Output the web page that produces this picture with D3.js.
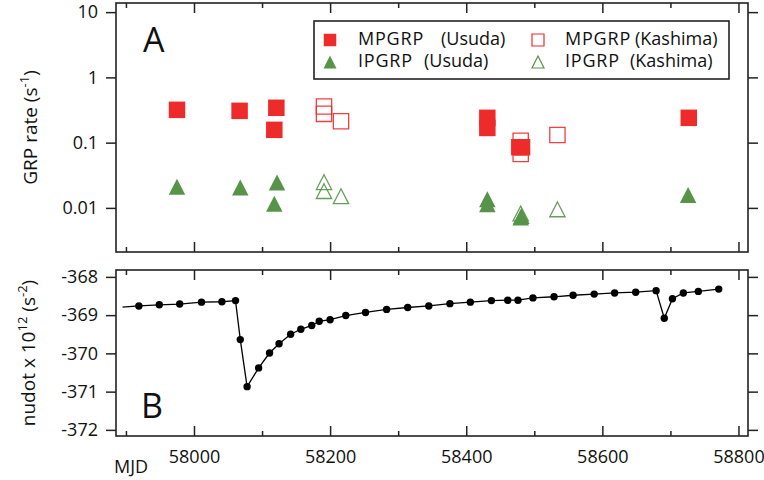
<!DOCTYPE html>
<html>
<head>
<meta charset="utf-8">
<script src="https://cdn.jsdelivr.net/npm/d3@7"></script>
<style>
  html, body { margin: 0; padding: 0; background: #fff; }
  svg { display: block; font-family: "Open Sans", sans-serif; }
  text { fill: #111; }
</style>
</head>
<body>
<svg id="chart" width="764" height="480"></svg>
<script>
// ---- Data ----
// Panel A: giant radio pulse rates (s^-1)
const mpUsudaMjd   = [57975, 58067, 58121, 58118, 58431, 58431, 58478, 58482, 58727];
const mpUsudaRate  = [0.318, 0.307, 0.342, 0.157, 0.24, 0.168, 0.085, 0.085, 0.24];
const ipUsudaMjd   = [57975, 58068, 58122, 58118, 58431, 58431, 58480, 58481, 58726];
const ipUsudaRate  = [0.0211, 0.0205, 0.0245, 0.0116, 0.0136, 0.0114, 0.0071, 0.0075, 0.0158];
const mpKashimaMjd  = [58191, 58191, 58216, 58480, 58480, 58534];
const mpKashimaRate = [0.358, 0.276, 0.213, 0.107, 0.067, 0.131];
const ipKashimaMjd  = [58191, 58191, 58216, 58480, 58534];
const ipKashimaRate = [0.0248, 0.0181, 0.0151, 0.0082, 0.0095];

// Panel B: spin-down rate nudot x 10^12 (s^-2)
const nudotLineStart = [57895, -368.79];
const nudotMjd = [57919, 57949, 57979, 58011, 58041, 58061, 58068, 58078, 58095, 58111,
                  58125, 58142, 58157, 58173, 58184, 58200, 58223, 58252, 58283, 58314,
                  58345, 58376, 58406, 58437, 58461, 58476, 58498, 58529, 58557, 58588,
                  58618, 58649, 58679, 58691, 58703, 58719, 58741, 58771];
const nudotVal = [-368.76, -368.73, -368.71, -368.66, -368.65, -368.62, -369.64, -370.87, -370.38, -369.99,
                  -369.75, -369.50, -369.37, -369.27, -369.16, -369.12, -369.01, -368.93, -368.85, -368.80,
                  -368.76, -368.70, -368.66, -368.62, -368.61, -368.61, -368.55, -368.52, -368.48, -368.45,
                  -368.42, -368.40, -368.36, -369.08, -368.57, -368.42, -368.38, -368.32];

// Tick values
const xMajorTicks = [58000, 58200, 58400, 58600, 58800];
const xMinorTicks = [57900, 58100, 58300, 58500, 58700];
const rateTicks   = [0.01, 0.1, 1, 10];
const rateTickLabels = ["0.01", "0.1", "1", "10"];
const nudotTicks  = [-372, -371, -370, -369, -368];

// Legend entries: pulse type and station
const legendTypes = ["MPGRP", "MPGRP", "IPGRP", "IPGRP"];
const legendSites = ["(Usuda)", "(Kashima)", "(Usuda)", "(Kashima)"];

// ---- Layout ----
const red = "#ee2b2b";
const green = "#57944a";
const axisColor = "#222";
const FONT = 18;
const L = 116, R = 748;
const A = { top: 3, bottom: 252 };
const B = { top: 270, bottom: 436 };

const svg = d3.select("#chart");

const x = d3.scaleLinear().domain([57885.4, 58814]).range([L, R]);
const yRate = d3.scaleLog().domain([0.00211, 13.8]).range([A.bottom, A.top]);
const yNudot = d3.scaleLinear().domain([-372.16, -367.82]).range([B.bottom, B.top]);

// Square and triangle markers centred on (cx, cy)
function squarePath(cx, cy, s) {
  const h = s / 2;
  return `M${cx - h},${cy - h}H${cx + h}V${cy + h}H${cx - h}Z`;
}
function trianglePath(cx, cy, w, hgt) {
  return `M${cx},${cy - hgt / 2}L${cx + w / 2},${cy + hgt / 2}L${cx - w / 2},${cy + hgt / 2}Z`;
}

function styleAxis(g) {
  g.select(".domain").remove();
  g.selectAll("line").attr("stroke", axisColor).attr("stroke-width", 1.5);
  g.selectAll("text").attr("font-family", "Open Sans, sans-serif").attr("font-size", FONT).attr("fill", "#111");
}

function drawFrame(panel, yScale, yTicks, yFormat, showXLabels) {
  // horizontal ticks (inward) on top and bottom edges
  const bottomMajor = d3.axisBottom(x).tickValues(xMajorTicks).tickSize(-10)
    .tickFormat(showXLabels ? (d => String(d)) : () => "").tickPadding(14);
  const bottomMinor = d3.axisBottom(x).tickValues(xMinorTicks).tickSize(-5).tickFormat(() => "");
  const topMajor = d3.axisTop(x).tickValues(xMajorTicks).tickSize(-10).tickFormat(() => "");
  const topMinor = d3.axisTop(x).tickValues(xMinorTicks).tickSize(-5).tickFormat(() => "");

  svg.append("g").attr("transform", `translate(0,${panel.bottom})`).call(bottomMajor).call(styleAxis);
  svg.append("g").attr("transform", `translate(0,${panel.bottom})`).call(bottomMinor).call(styleAxis);
  svg.append("g").attr("transform", `translate(0,${panel.top})`).call(topMajor).call(styleAxis);
  svg.append("g").attr("transform", `translate(0,${panel.top})`).call(topMinor).call(styleAxis);

  // vertical ticks: outward on both sides, labels on the left only
  const left = d3.axisLeft(yScale).tickValues(yTicks).tickSize(10).tickPadding(8).tickFormat(yFormat);
  const right = d3.axisRight(yScale).tickValues(yTicks).tickSize(10).tickFormat(() => "");
  svg.append("g").attr("transform", `translate(${L},0)`).call(left).call(styleAxis);
  svg.append("g").attr("transform", `translate(${R},0)`).call(right).call(styleAxis);

  svg.append("rect")
    .attr("x", L).attr("y", panel.top)
    .attr("width", R - L).attr("height", panel.bottom - panel.top)
    .attr("fill", "none").attr("stroke", axisColor).attr("stroke-width", 1.6);
}

// ---- Panel A ----
drawFrame(A, yRate, rateTicks, (d, i) => rateTickLabels[i], false);

const gA = svg.append("g");
const SQ = 16.5, TW = 16.5, TH = 16;

// open Kashima markers
gA.selectAll(".mpk").data(d3.zip(mpKashimaMjd, mpKashimaRate)).join("path")
  .attr("d", d => squarePath(x(d[0]), yRate(d[1]), SQ - 1.2))
  .attr("fill", "none").attr("stroke", red).attr("stroke-width", 1.3).attr("stroke-opacity", 0.9);
gA.selectAll(".ipk").data(d3.zip(ipKashimaMjd, ipKashimaRate)).join("path")
  .attr("d", d => trianglePath(x(d[0]), yRate(d[1]), TW - 1.2, TH - 1.2))
  .attr("fill", "none").attr("stroke", green).attr("stroke-width", 1.3).attr("stroke-opacity", 0.9);

// filled Usuda markers
gA.selectAll(".mpu").data(d3.zip(mpUsudaMjd, mpUsudaRate)).join("path")
  .attr("d", d => squarePath(x(d[0]), yRate(d[1]), SQ))
  .attr("fill", red);
gA.selectAll(".ipu").data(d3.zip(ipUsudaMjd, ipUsudaRate)).join("path")
  .attr("d", d => trianglePath(x(d[0]), yRate(d[1]), TW, TH))
  .attr("fill", green);

// panel letter
svg.append("text").attr("x", 143).attr("y", 52).attr("font-size", 34).text("A");

// legend
const lg = svg.append("g");
lg.append("rect").attr("x", 314).attr("y", 21).attr("width", 415).attr("height", 58)
  .attr("fill", "#fff").attr("stroke", axisColor).attr("stroke-width", 1.6);
const colMarkX = [330, 538], colTextX = [358, 565], rowY = [40, 62];
const siteStartX = [441, 635, 424, 630];
const legendMarks = [
  (cx, cy) => lg.append("path").attr("d", squarePath(cx, cy, 12.5)).attr("fill", red),
  (cx, cy) => lg.append("path").attr("d", squarePath(cx, cy, 12)).attr("fill", "none").attr("stroke", red).attr("stroke-width", 1.2),
  (cx, cy) => lg.append("path").attr("d", trianglePath(cx, cy, 13, 13)).attr("fill", green),
  (cx, cy) => lg.append("path").attr("d", trianglePath(cx, cy, 12, 12)).attr("fill", "none").attr("stroke", green).attr("stroke-width", 1.2)
];
legendTypes.forEach((t, i) => {
  const c = i % 2, r = Math.floor(i / 2);
  legendMarks[i](colMarkX[c], rowY[r]);
  lg.append("text").attr("x", colTextX[c]).attr("y", rowY[r] + 5)
    .attr("font-size", FONT).attr("letter-spacing", 0.8).text(t);
  lg.append("text").attr("x", siteStartX[i]).attr("y", rowY[r] + 5)
    .attr("font-size", FONT).text(legendSites[i]);
});

// y label A
const ylA = svg.append("text").attr("transform", `translate(37,${(A.top + A.bottom) / 2}) rotate(-90)`)
  .attr("text-anchor", "middle").attr("font-size", 19);
ylA.append("tspan").text("GRP rate (s");
ylA.append("tspan").attr("dy", -8).attr("font-size", 13).text("-1");
ylA.append("tspan").attr("dy", 8).text(")");

// ---- Panel B ----
drawFrame(B, yNudot, nudotTicks, d => String(d), true);

const nudotPts = d3.zip(nudotMjd, nudotVal);
const line = d3.line().x(d => x(d[0])).y(d => yNudot(d[1]));
svg.append("path").datum([nudotLineStart, ...nudotPts])
  .attr("d", line).attr("fill", "none").attr("stroke", "#000").attr("stroke-width", 1.3);
svg.append("g").selectAll("circle").data(nudotPts).join("circle")
  .attr("cx", d => x(d[0])).attr("cy", d => yNudot(d[1])).attr("r", 3.7).attr("fill", "#000");

svg.append("text").attr("x", 141).attr("y", 418).attr("font-size", 34).text("B");

const ylB = svg.append("text").attr("transform", `translate(35,${(B.top + B.bottom) / 2}) rotate(-90)`)
  .attr("text-anchor", "middle").attr("font-size", 19);
ylB.append("tspan").text("nudot x 10");
ylB.append("tspan").attr("dy", -8).attr("font-size", 13).text("12");
ylB.append("tspan").attr("dy", 8).text(" (s");
ylB.append("tspan").attr("dy", -8).attr("font-size", 13).text("-2");
ylB.append("tspan").attr("dy", 8).text(")");

// x label
svg.append("text").attr("x", 114).attr("y", 473).attr("font-size", FONT).text("MJD");
</script>
</body>
</html>
